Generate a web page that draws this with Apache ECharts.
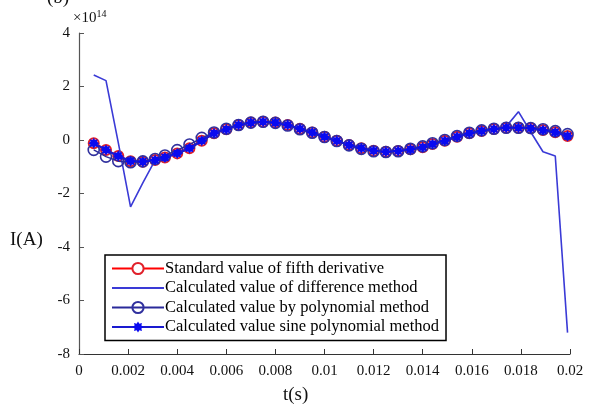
<!DOCTYPE html>
<html><head><meta charset="utf-8">
<script src="https://cdn.jsdelivr.net/npm/echarts@6/dist/echarts.min.js"></script>
<style>html,body{margin:0;padding:0;background:#fff}#c{width:598px;height:408px}</style>
</head><body><div id="c"></div>
<script>
// time samples (s)
const tValues = [0.0006,0.0011,0.0016,0.0021,0.0026,0.0031,0.0035,0.0040,0.0045,0.0050,
  0.0055,0.0060,0.0065,0.0070,0.0075,0.0080,0.0085,0.0090,0.0095,0.0100,
  0.0105,0.0110,0.0115,0.0120,0.0125,0.0130,0.0135,0.0140,0.0144,0.0149,
  0.0154,0.0159,0.0164,0.0169,0.0174,0.0179,0.0184,0.0189,0.0194,0.0199];
// values in units of 1e14 A
const standardValues = [-0.12,-0.37,-0.60,-0.79,-0.81,-0.75,-0.65,-0.50,-0.31,-0.03,
  0.25,0.40,0.56,0.65,0.68,0.65,0.56,0.42,0.28,0.12,
  -0.03,-0.19,-0.31,-0.40,-0.44,-0.41,-0.35,-0.27,-0.15,-0.03,
  0.12,0.25,0.34,0.41,0.46,0.46,0.44,0.37,0.29,0.15];
const differenceValues = [2.43,2.22,-0.10,-2.50,-1.60,-0.75,-0.65,-0.50,-0.31,-0.03,
  0.25,0.40,0.56,0.65,0.68,0.65,0.56,0.42,0.28,0.12,
  -0.03,-0.19,-0.31,-0.40,-0.44,-0.41,-0.35,-0.27,-0.15,-0.03,
  0.12,0.25,0.34,0.41,0.50,1.06,0.30,-0.44,-0.60,-7.20];
const polynomialValues = [-0.37,-0.62,-0.79,-0.83,-0.80,-0.71,-0.58,-0.38,-0.17,0.08,
  0.28,0.42,0.56,0.65,0.68,0.64,0.54,0.40,0.27,0.11,
  -0.04,-0.20,-0.33,-0.42,-0.45,-0.42,-0.33,-0.24,-0.12,0.00,
  0.15,0.27,0.36,0.42,0.46,0.46,0.45,0.40,0.33,0.22];
const sinePolyValues = [-0.12,-0.37,-0.60,-0.79,-0.81,-0.75,-0.65,-0.50,-0.31,-0.03,
  0.25,0.40,0.56,0.65,0.68,0.65,0.56,0.42,0.28,0.12,
  -0.03,-0.19,-0.31,-0.40,-0.44,-0.41,-0.35,-0.27,-0.15,-0.03,
  0.12,0.25,0.34,0.41,0.46,0.46,0.44,0.37,0.29,0.15];
const seriesNames = ['Standard value of fifth derivative','Calculated value of difference method',
  'Calculated value by polynomial method','Calculated value sine polynomial method'];
const xTicks = {min:0, max:0.02, interval:0.002};
const yTicks = {min:-8, max:4, interval:2};

function pairs(v){ return tValues.map((t,i)=>[t,v[i]]); }
// asterisk-like star path
function starPath(){
  let pts=[];
  for(let i=0;i<16;i++){
    const a=Math.PI*i/8 - Math.PI/2;
    const r=(i%2===0)?10:6.5;
    pts.push((10+r*Math.cos(a)).toFixed(2)+' '+(10+r*Math.sin(a)).toFixed(2));
  }
  return 'path://M'+pts.join(' L')+' Z';
}
const serif = '"Liberation Serif","DejaVu Serif",serif';
const chart = echarts.init(document.getElementById('c'), null, {renderer:'canvas'});
chart.setOption({
  animation:false,
  backgroundColor:'#fff',
  grid:{left:79, right:28, top:33, bottom:54, containLabel:false},
  xAxis:{type:'value', min:xTicks.min, max:xTicks.max, interval:xTicks.interval,
    axisLine:{show:true, onZero:false, lineStyle:{color:'#333', width:1.2}},
    axisTick:{show:true, inside:true, length:5, lineStyle:{color:'#333'}},
    splitLine:{show:false},
    axisLabel:{color:'#111', fontFamily:serif, fontSize:15, margin:10,
      formatter:v=>String(parseFloat(v.toFixed(4)))}},
  yAxis:{type:'value', min:yTicks.min, max:yTicks.max, interval:yTicks.interval,
    axisLine:{show:true, onZero:false, lineStyle:{color:'#555', width:1.2}},
    axisTick:{show:true, inside:true, length:5, lineStyle:{color:'#555'}},
    splitLine:{show:false},
    axisLabel:{color:'#111', fontFamily:serif, fontSize:15, margin:9}},
  legend:{orient:'vertical', left:105, top:255,
    data:[
      {name:seriesNames[0]},
      {name:seriesNames[1], itemStyle:{opacity:0}},
      {name:seriesNames[2]},
      {name:seriesNames[3]}
    ],
    itemWidth:52, itemHeight:14, itemGap:2.5,
    padding:[5,7,5,6], borderColor:'#000', borderWidth:1.5, backgroundColor:'#fff',
    textStyle:{fontFamily:serif, fontSize:16.5, lineHeight:17, color:'#000', padding:[0,0,0,-4]}},
  graphic:[
    {type:'text', left:73, top:9, style:{text:'×10{s|14}', fontFamily:serif, fontSize:15, fill:'#111',
      rich:{s:{fontSize:10, verticalAlign:'top', padding:[0,0,8,0], fontFamily:serif}}}},
    {type:'text', left:10, top:231, style:{text:'I(A)', fontFamily:serif, fontSize:19, fill:'#111'}},
    {type:'text', left:283, top:386, style:{text:'t(s)', fontFamily:serif, fontSize:19, fill:'#111'}},
    {type:'text', left:47, top:-11, style:{text:'(b)', fontFamily:serif, fontSize:19, fill:'#111'}}
  ],
  series:[
    {name:seriesNames[0], type:'line', data:pairs(standardValues), symbol:'circle', symbolSize:10,
      showAllSymbol:true, z:2,
      lineStyle:{color:'#ff0000', width:2}, itemStyle:{color:'#fff', borderColor:'#e0202a', borderWidth:2},
      emphasis:{disabled:true}},
    {name:seriesNames[1], type:'line', data:pairs(differenceValues), symbol:'none', z:3,
      lineStyle:{color:'#3a3ad6', width:1.6}, itemStyle:{color:'#1414e0'}, emphasis:{disabled:true}},
    {name:seriesNames[2], type:'line', data:pairs(polynomialValues), symbol:'circle', symbolSize:11,
      showAllSymbol:true, z:4,
      lineStyle:{color:'#2a2a9a', width:1.5}, itemStyle:{color:'rgba(255,255,255,0)', borderColor:'#30309e', borderWidth:1.6},
      emphasis:{disabled:true}},
    {name:seriesNames[3], type:'line', data:pairs(sinePolyValues), symbol:starPath(), symbolSize:11,
      showAllSymbol:true, z:5,
      lineStyle:{color:'#1a1ad0', width:2.2}, itemStyle:{color:'#0a0af0'},
      emphasis:{disabled:true}}
  ]
});
</script></body></html>
